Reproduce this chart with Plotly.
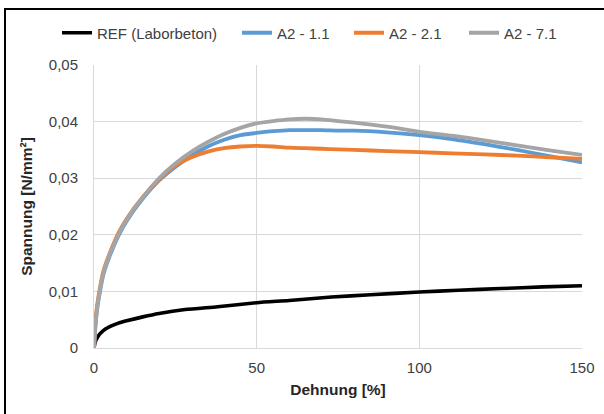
import plotly.graph_objects as go

# Shared strain values (%) for the A2 series
dehnung = [0, 0.5, 1, 2, 3, 5, 7.5, 10, 15, 20, 25, 30, 35, 40, 45, 50, 55, 60, 65,
           70, 75, 80, 90, 100, 110, 120, 130, 140, 150]

a2_11 = [0, 0.0043, 0.0070, 0.0105, 0.0132, 0.0165, 0.0198, 0.0224, 0.0264, 0.0296,
         0.0320, 0.0340, 0.0356, 0.0368, 0.0376, 0.0380, 0.0383, 0.0385, 0.0385,
         0.0385, 0.0384, 0.0384, 0.0381, 0.0376, 0.0369, 0.0360, 0.0350, 0.0339, 0.0328]

a2_21 = [0, 0.0050, 0.0077, 0.0112, 0.0138, 0.0170, 0.0203, 0.0228, 0.0267, 0.0298,
         0.0322, 0.0337, 0.0347, 0.0353, 0.0356, 0.0357, 0.0356, 0.0354, 0.0353,
         0.0352, 0.0351, 0.0350, 0.0348, 0.0346, 0.0344, 0.0342, 0.0340, 0.0337, 0.0334]

a2_71 = [0, 0.0046, 0.0073, 0.0108, 0.0135, 0.0168, 0.0200, 0.0226, 0.0266, 0.0300,
         0.0326, 0.0347, 0.0364, 0.0378, 0.0389, 0.0397, 0.0401, 0.0404, 0.0405,
         0.0404, 0.0401, 0.0398, 0.0391, 0.0382, 0.0375, 0.0367, 0.0358, 0.0349, 0.0341]

# Reference concrete
dehnung_ref = [0, 0.3, 0.7, 1.2, 2, 3.4, 5, 7.5, 10, 15, 20, 28, 38, 50, 60, 73, 85,
               100, 112, 125, 138, 150]
ref = [0, 0.0009, 0.0015, 0.0020, 0.0026, 0.0033, 0.0038, 0.0044, 0.0048, 0.0055,
       0.0061, 0.0068, 0.0073, 0.0080, 0.0084, 0.0090, 0.0094, 0.0099, 0.0102,
       0.0105, 0.0108, 0.0110]

series_names = ["REF (Laborbeton)", "A2 - 1.1", "A2 - 2.1", "A2 - 7.1"]
colors = ["#000000", "#5B9BD5", "#ED7D31", "#A5A5A5"]
widths = [3.6, 3.8, 3.8, 3.8]

x_ticks = [0, 50, 100, 150]
x_tick_labels = ["0", "50", "100", "150"]
y_ticks = [0, 0.01, 0.02, 0.03, 0.04, 0.05]
y_tick_labels = ["0", "0,01", "0,02", "0,03", "0,04", "0,05"]

W, H = 604, 414
L, R, T, B = 94, 22, 65, 66
pw, ph = W - L - R, H - T - B

def px_to_paper_x(px):
    return (px - L) / pw

def px_to_paper_y(py):
    return (H - B - py) / ph

font = "Liberation Sans, Arial, sans-serif"
legend_ids = ["legend", "legend2", "legend3", "legend4"]
legend_line_starts = [63, 243, 355, 470]  # pixel positions of legend entries

fig = go.Figure()
data = [(dehnung_ref, ref), (dehnung, a2_11), (dehnung, a2_21), (dehnung, a2_71)]
for (xs, ys), name, c, w, lid in zip(data, series_names, colors, widths, legend_ids):
    fig.add_trace(go.Scatter(x=xs, y=ys, mode="lines", name=name, legend=lid,
                             line=dict(color=c, width=w, shape="spline", smoothing=0.6)))

legend_layout = {}
for lid, lx in zip(legend_ids, legend_line_starts):
    legend_layout[lid] = dict(orientation="h", x=px_to_paper_x(lx - 6), xanchor="left",
                              y=px_to_paper_y(33), yanchor="middle",
                              font=dict(size=15, color="#404040"),
                              bgcolor="rgba(0,0,0,0)", borderwidth=0)

fig.update_layout(
    width=W, height=H,
    margin=dict(l=L, r=R, t=T, b=B, autoexpand=False),
    paper_bgcolor="white", plot_bgcolor="white",
    font=dict(family=font, size=15, color="#404040"),
    separators=",.",
    showlegend=True,
    xaxis=dict(range=[0, 150], tickvals=x_ticks, ticktext=x_tick_labels,
               showgrid=True, gridcolor="#D9D9D9", gridwidth=1,
               zeroline=False, showline=True, linecolor="#D9D9D9", linewidth=1,
               ticks="", ticklabelstandoff=6,
               title=dict(text="<b>Dehnung [%]</b>", standoff=9,
                          font=dict(size=15.5, color="#262626"))),
    yaxis=dict(range=[0, 0.05], tickvals=y_ticks, ticktext=y_tick_labels,
               showgrid=True, gridcolor="#D9D9D9", gridwidth=1,
               zeroline=False, showline=True, linecolor="#D9D9D9", linewidth=1,
               ticks="", ticklabelstandoff=12,
               title=dict(text="<b>Spannung [N/mm²]</b>", standoff=12,
                          font=dict(size=15.5, color="#262626"))),
    shapes=[
        dict(type="line", xref="paper", yref="paper",
             x0=px_to_paper_x(5), x1=px_to_paper_x(5),
             y0=px_to_paper_y(9), y1=px_to_paper_y(414),
             line=dict(color="black", width=2), layer="above"),
        dict(type="line", xref="paper", yref="paper",
             x0=px_to_paper_x(4), x1=px_to_paper_x(604),
             y0=px_to_paper_y(9), y1=px_to_paper_y(9),
             line=dict(color="black", width=2), layer="above"),
    ],
    **legend_layout,
)

fig.write_html("out.html", config={"displayModeBar": False},
               post_script="document.body.style.margin='0';document.body.style.overflow='hidden';")
